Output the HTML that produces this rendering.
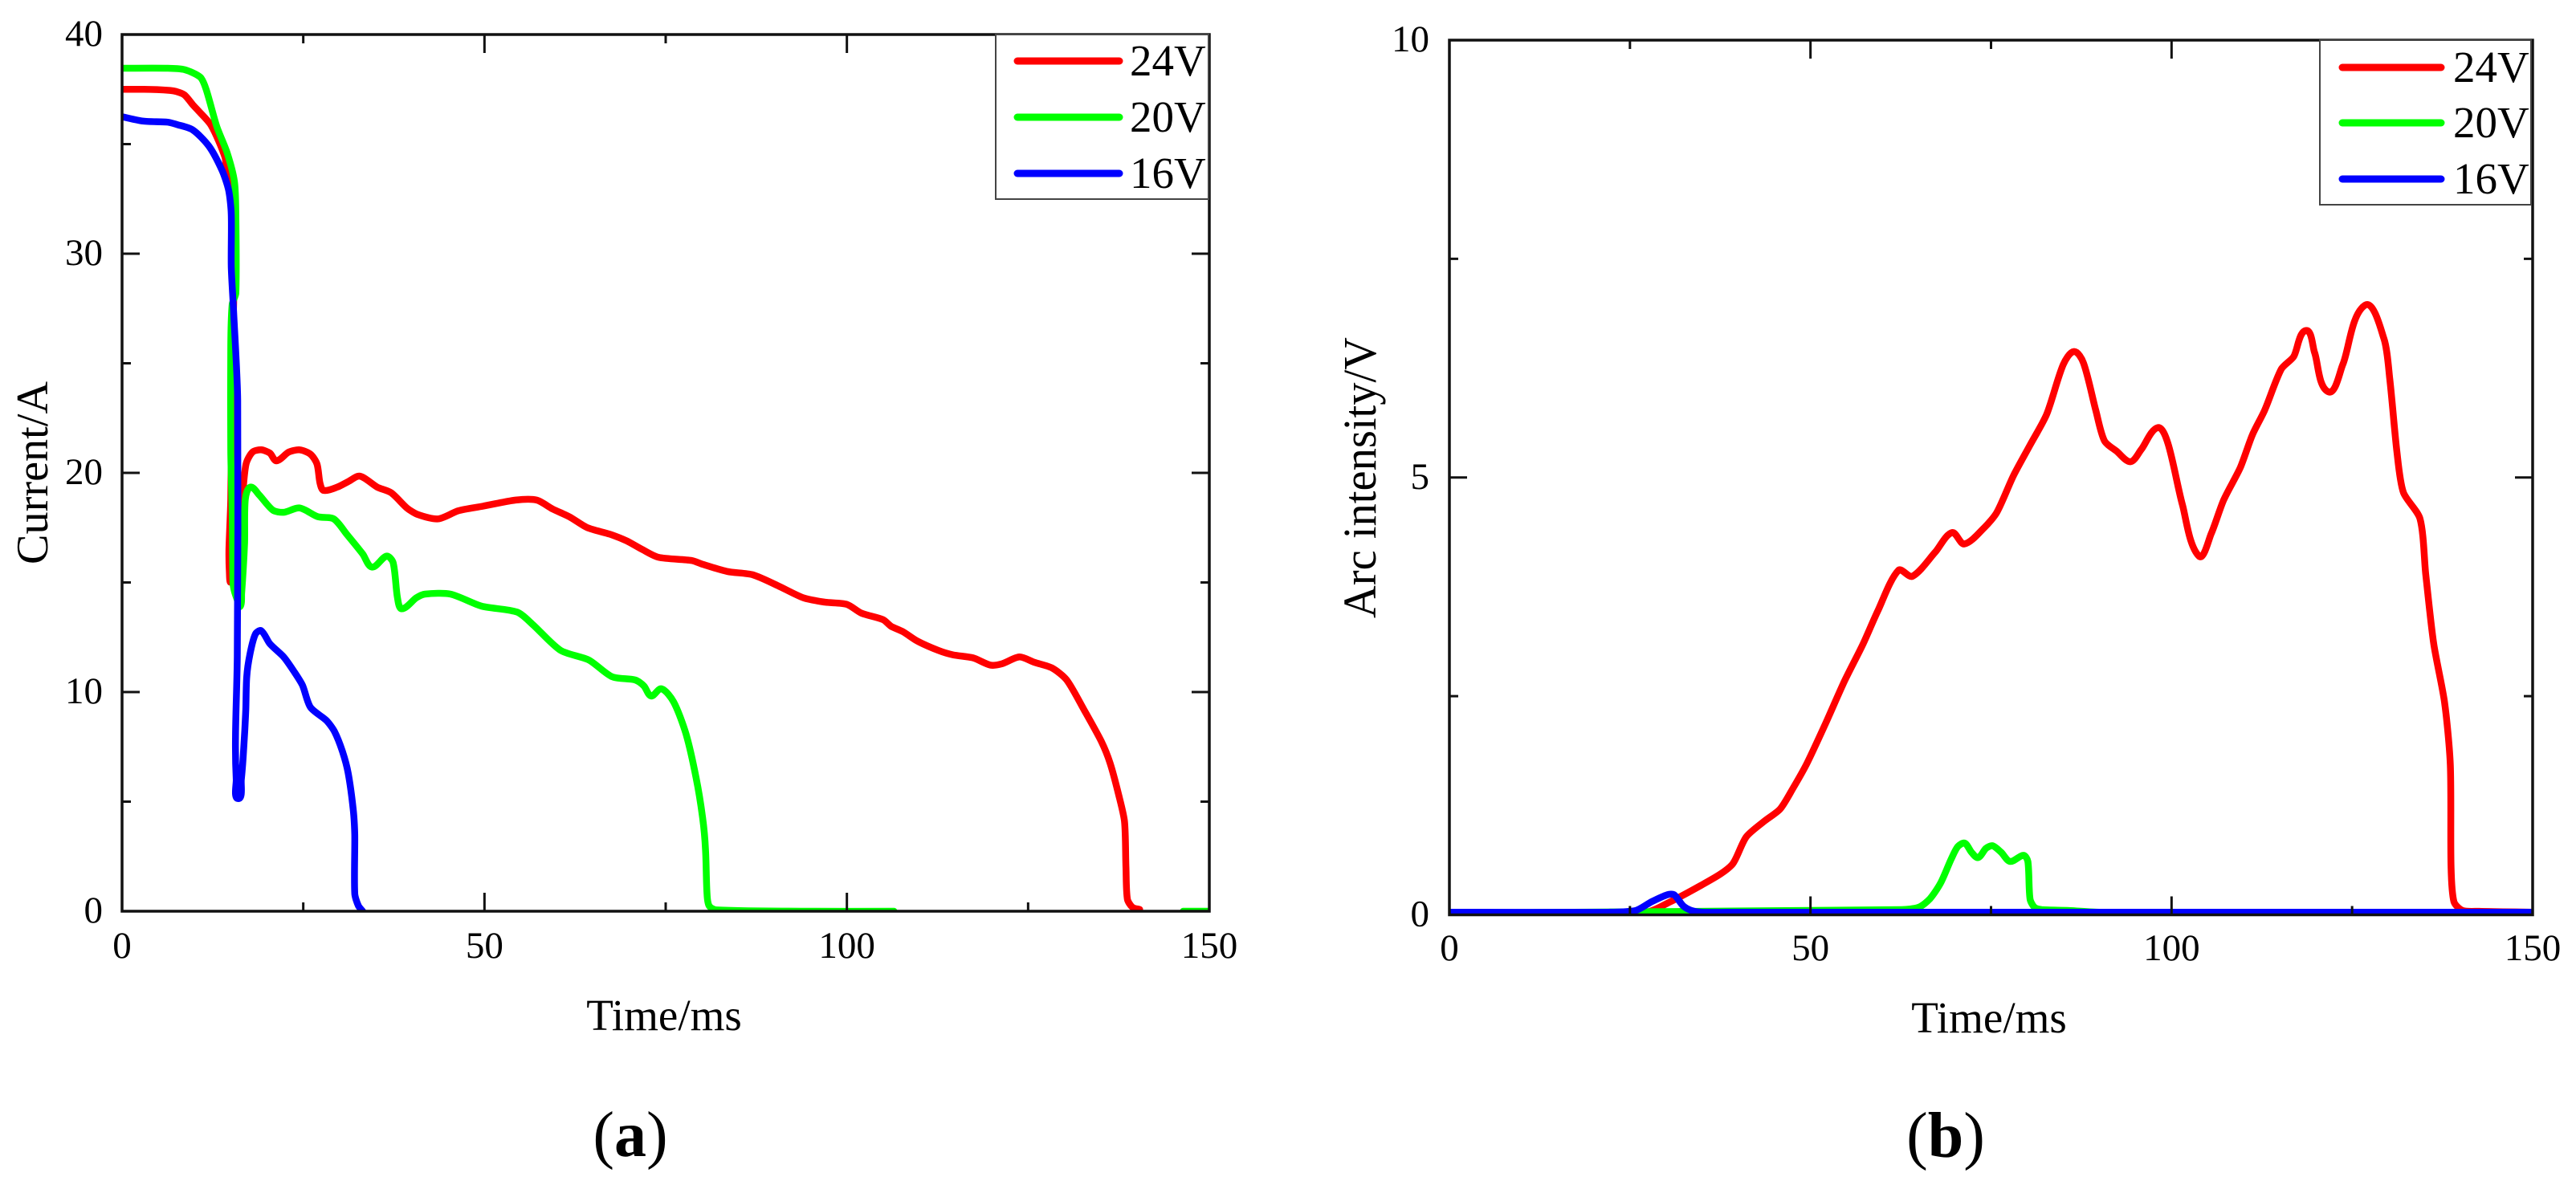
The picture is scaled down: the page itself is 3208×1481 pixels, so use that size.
<!DOCTYPE html>
<html lang="en">
<head>
<meta charset="utf-8">
<title>Current and arc intensity versus time</title>
<style>
html,body{margin:0;padding:0;background:#fff;}
svg{display:block;font-family:"Liberation Serif",serif;}
text{fill:#000;}
</style>
</head>
<body>
<svg id="figure" xmlns="http://www.w3.org/2000/svg" width="3208" height="1481" viewBox="0 0 3208 1481">
  <rect x="0" y="0" width="3208" height="1481" fill="#fff"/>
  <defs>
    <clipPath id="clipA"><rect x="152" y="43" width="1354" height="1092"/></clipPath>
    <clipPath id="clipB"><rect x="1805" y="50" width="1349" height="1089.5"/></clipPath>
  </defs>

  <g id="panelA"></g>
  <g id="panelB"></g>

  <text transform="translate(59,703) rotate(-90)" font-size="56" textLength="228" lengthAdjust="spacingAndGlyphs">Current/A</text>
  <text x="827" y="1283" font-size="55" text-anchor="middle">Time/ms</text>
  <text transform="translate(1713,770) rotate(-90)" font-size="58" textLength="350" lengthAdjust="spacingAndGlyphs">Arc intensity/V</text>
  <text x="2477" y="1286" font-size="55" text-anchor="middle">Time/ms</text>

  <g>
    <rect x="1240" y="43" width="265" height="205" fill="#fff" stroke="#444" stroke-width="2"/>
    <line x1="1267" y1="76" x2="1394" y2="76" stroke="#ff0000" stroke-width="9" stroke-linecap="round"/>
    <text x="1407" y="94" font-size="55">24V</text>
    <line x1="1267" y1="146" x2="1394" y2="146" stroke="#00ff00" stroke-width="9" stroke-linecap="round"/>
    <text x="1407" y="164" font-size="55">20V</text>
    <line x1="1267" y1="216" x2="1394" y2="216" stroke="#0000ff" stroke-width="9" stroke-linecap="round"/>
    <text x="1407" y="234" font-size="55">16V</text>
  </g>

  <g>
    <rect x="2889" y="50" width="263" height="205" fill="#fff" stroke="#444" stroke-width="2"/>
    <line x1="2917" y1="84" x2="3040" y2="84" stroke="#ff0000" stroke-width="9" stroke-linecap="round"/>
    <text x="3055" y="102" font-size="55">24V</text>
    <line x1="2917" y1="153" x2="3040" y2="153" stroke="#00ff00" stroke-width="9" stroke-linecap="round"/>
    <text x="3055" y="171" font-size="55">20V</text>
    <line x1="2917" y1="223" x2="3040" y2="223" stroke="#0000ff" stroke-width="9" stroke-linecap="round"/>
    <text x="3055" y="241" font-size="55">16V</text>
  </g>

  <text x="785" y="1440" font-size="80" text-anchor="middle">(<tspan font-weight="bold">a</tspan>)</text>
  <text x="2423" y="1441" font-size="80" text-anchor="middle">(<tspan font-weight="bold">b</tspan>)</text>
</svg>

<script>
/* ---- Panel (a): current vs time ---- */
var currentXTicks = [0, 50, 100, 150];
var currentXMinor = [25, 75, 125];
var currentYTicks = [0, 10, 20, 30, 40];
var currentYMinor = [5, 15, 25, 35];

var current24Time = [0,3,6.6,7.5,8.6,9.75,10.3,12.3,14.2,14.4,15.1,15.5,15.2,15,14.75,14.8,15,15.6,16.2,16.6,17.1,18,19.2,20.4,21.3,23,24.5,26,26.9,27.3,27.8,29.7,31.2,32.8,35.2,37.1,39.3,40.8,43.6,46.4,49.8,54.3,57.2,59.4,61.7,64.2,67.3,69.6,71.8,74,78.6,80,83.5,87,90.5,94,97,100,102,105,106.1,107.7,109.7,112.6,114.6,117.4,119.8,121.4,123.8,125.9,128.3,130.3,132.7,135.1,136.3,137.5,138.3,138.5,138.7,139.4,140.4];
var current24Value = [37.5,37.5,37.45,37.4,37.25,36.8,36.6,35.85,34.4,33.8,33.4,30,25,18.8,16.5,15.5,15.03,16,18,18.9,20.4,20.95,21.05,20.9,20.55,20.95,21.05,20.85,20.4,19.55,19.2,19.35,19.6,19.85,19.35,19.1,18.4,18.1,17.9,18.27,18.48,18.76,18.76,18.35,18,17.5,17.2,16.9,16.5,16.15,16,15.84,15.5,15.35,14.85,14.3,14.1,14,13.6,13.3,13,12.76,12.33,11.9,11.7,11.56,11.23,11.29,11.6,11.35,11.1,10.56,9.2,7.75,6.77,5.3,4.09,2,0.55,0.18,0.08];

var current20Time = [0,6.3,8.6,10.8,11.6,13.07,14.5,15.5,15.7,15.7,15.2,15,15,15.2,15.3,15.5,15.9,16.3,16.5,16.9,17,17.7,18.9,20.8,22.3,24.5,27,29.2,31,33.2,34.5,36.5,37.4,38,38.6,40.6,41.8,45.3,49.6,54.5,56.6,60.5,64.4,67.6,70.8,72,73,74.4,76.1,77.8,79.2,80.1,80.5,80.7,81,82,94,106.5];
var current20Value = [38.46,38.46,38.4,38.05,37.5,35.8,34.6,33.3,31.8,28.2,27.7,25.8,21,18,15,14.6,14.2,13.9,14.5,16.8,18.8,19.35,19,18.3,18.2,18.4,18,17.9,17.2,16.3,15.7,16.2,15.9,14.3,13.8,14.3,14.47,14.47,13.92,13.65,13.1,11.9,11.46,10.7,10.55,10.28,9.82,10.15,9.55,8.09,6.08,4.26,2.8,0.79,0.24,0.06,0,0];
var current20TailTime = [146.4, 150];
var current20TailValue = [0, 0];

var current16Time = [0,2.9,6.3,7.5,9.75,12,13.8,14.7,15.07,15.07,15.4,15.95,15.9,15.65,15.75,16.03,16.45,16.8,17.07,17.2,17.66,18.4,19.2,20.4,22.3,23.8,24.9,26,28.2,29.3,30.4,31.2,31.9,32.1,32.1,32.6,33.2];
var current16Value = [36.25,36.05,36,35.9,35.65,34.9,33.8,32.9,31.8,29.4,27.3,23.3,11.7,8,6,5.14,6,7.5,9.2,10.7,11.75,12.65,12.8,12.2,11.6,10.9,10.3,9.3,8.7,8.2,7.3,6.3,4.6,3.5,0.8,0.25,0];

/* ---- Panel (b): arc intensity vs time ---- */
var arcXTicks = [0, 50, 100, 150];
var arcXMinor = [25, 75, 125];
var arcYTicks = [0, 5, 10];
var arcYMinor = [2.5, 7.5];

var arc24Time = [0,27.2,30.6,34.7,37.6,39.3,41.1,43.6,45.8,47.6,49.5,52.1,54.7,57.3,59.3,62.2,64.1,67.3,69.6,71.3,74.1,75.8,78.1,80.4,82.7,85,86.5,87.8,89.5,90.7,92.4,94.3,95.8,98.1,99.5,101.5,103.8,105.5,107.2,109.5,111.2,112.9,115.2,116.9,118.6,119.8,121.7,123.7,126.8,129.4,130.2,131.2,132.1,134.4,135.2,136.3,137.8,138.6,138.7,139.1,140.3,142.6,150];
var arc24Value = [0.03,0.03,0.15,0.33,0.47,0.59,0.89,1.07,1.21,1.45,1.73,2.19,2.67,3.1,3.47,3.94,3.87,4.15,4.37,4.24,4.43,4.6,5.02,5.37,5.72,6.29,6.44,6.31,5.77,5.42,5.3,5.18,5.32,5.57,5.39,4.69,4.1,4.36,4.74,5.11,5.49,5.77,6.24,6.38,6.68,6.43,5.98,6.29,6.97,6.59,6.14,5.3,4.83,4.53,3.89,3.1,2.43,1.71,0.55,0.15,0.05,0.04,0.03];

var arc20Time = [0,62.6,65,66.5,68,69.5,70.4,71.35,72.3,73.2,74.3,75.2,76.4,77.65,79.5,80.1,80.4,81,82,85.8,90,150];
var arc20Value = [0.02,0.06,0.087,0.18,0.36,0.64,0.78,0.82,0.715,0.654,0.76,0.79,0.715,0.61,0.68,0.61,0.18,0.087,0.06,0.05,0.03,0.03];

var arc16Time = [0,22,25.8,28,30.2,31.1,32.4,33.5,35,40.2,45,150];
var arc16Value = [0.03,0.03,0.05,0.15,0.23,0.23,0.1,0.05,0.03,0.03,0.03,0.03];

var SVGNS = 'http://www.w3.org/2000/svg';

function svgEl(tag, parent) {
  var el = document.createElementNS(SVGNS, tag);
  parent.appendChild(el);
  return el;
}

function makeScale(d0, d1, r0, r1) {
  return function (v) { return r0 + (v - d0) / (d1 - d0) * (r1 - r0); };
}

/* Smooth path through screen points: tangent follows prev->next, handle length
   scales with the local segment so steep sections do not overshoot. */
function smoothPath(pts) {
  function tangent(i) {
    var a = pts[Math.max(i - 1, 0)], b = pts[Math.min(i + 1, pts.length - 1)];
    var dx = b[0] - a[0], dy = b[1] - a[1], len = Math.hypot(dx, dy) || 1;
    return [dx / len, dy / len];
  }
  var d = 'M' + pts[0][0].toFixed(1) + ' ' + pts[0][1].toFixed(1);
  for (var i = 0; i < pts.length - 1; i++) {
    var p = pts[i], q = pts[i + 1];
    var seg = Math.hypot(q[0] - p[0], q[1] - p[1]) * 0.26;
    var t0 = tangent(i), t1 = tangent(i + 1);
    d += 'C' + (p[0] + t0[0] * seg).toFixed(1) + ' ' + (p[1] + t0[1] * seg).toFixed(1) + ' ' +
         (q[0] - t1[0] * seg).toFixed(1) + ' ' + (q[1] - t1[1] * seg).toFixed(1) + ' ' +
         q[0].toFixed(1) + ' ' + q[1].toFixed(1);
  }
  return d;
}

function drawSeries(group, sx, sy, times, values, color, clipId, name) {
  var pts = times.map(function (t, i) { return [sx(t), sy(values[i])]; });
  var line = svgEl('path', group);
  
  
  line.setAttribute('d', smoothPath(pts));
  line.setAttribute('fill', 'none');
  line.setAttribute('stroke', color);
  line.setAttribute('stroke-width', '8.5');
  line.setAttribute('stroke-linejoin', 'round');
  line.setAttribute('stroke-linecap', 'round');
  line.setAttribute('clip-path', 'url(#' + clipId + ')');
}

function tickLine(group, x1, y1, x2, y2, width) {
  var t = svgEl('line', group);
  
  
  t.setAttribute('x1', x1);
  t.setAttribute('y1', y1);
  t.setAttribute('x2', x2);
  t.setAttribute('y2', y2);
  t.setAttribute('stroke', '#111');
  t.setAttribute('stroke-width', width);
}

function tickLabel(group, x, y, str, anchor, name) {
  var t = svgEl('text', group);
  
  
  t.setAttribute('x', x);
  t.setAttribute('y', y);
  t.setAttribute('font-size', '47');
  t.setAttribute('text-anchor', anchor);
  t.textContent = str;
}

function drawAxes(group, sx, sy, box, xMajor, xMinor, yMajor, yMinor, opts) {
  xMajor.forEach(function (v) {
    var x = sx(v);
    tickLine(group, x, box.bottom, x, box.bottom - 23, 3);
    tickLine(group, x, box.top, x, box.top + 23, 3);
    tickLabel(group, x, opts.xLabelY, String(v), 'middle', 'x-tick-label');
  });
  xMinor.forEach(function (v) {
    var x = sx(v);
    tickLine(group, x, box.bottom, x, box.bottom - 11, 3);
    tickLine(group, x, box.top, x, box.top + 11, 3);
  });
  yMajor.forEach(function (v) {
    var y = sy(v);
    tickLine(group, box.left, y, box.left + 22, y, 3);
    tickLine(group, box.right, y, box.right - 22, y, 3);
    tickLabel(group, opts.yLabelX, y + 14, String(v), 'end', 'y-tick-label');
  });
  yMinor.forEach(function (v) {
    var y = sy(v);
    tickLine(group, box.left, y, box.left + 11, y, 3);
    tickLine(group, box.right, y, box.right - 11, y, 3);
  });
  var frame = svgEl('rect', group);
  
  
  frame.setAttribute('x', box.left);
  frame.setAttribute('y', box.top);
  frame.setAttribute('width', box.right - box.left);
  frame.setAttribute('height', box.bottom - box.top);
  frame.setAttribute('fill', 'none');
  frame.setAttribute('stroke', '#111');
  frame.setAttribute('stroke-width', '3.5');
}

/* panel a */
var boxA = { left: 152, right: 1506, top: 43, bottom: 1135 };
var xA = makeScale(0, 150, boxA.left, boxA.right);
var yA = makeScale(0, 40, boxA.bottom, boxA.top);
var gA = document.getElementById('panelA');
drawSeries(gA, xA, yA, current24Time, current24Value, '#ff0000', 'clipA', 'series-24v');
drawSeries(gA, xA, yA, current20Time, current20Value, '#00ff00', 'clipA', 'series-20v');
drawSeries(gA, xA, yA, current20TailTime, current20TailValue, '#00ff00', 'clipA', 'series-20v-tail');
drawSeries(gA, xA, yA, current16Time, current16Value, '#0000ff', 'clipA', 'series-16v');
drawAxes(gA, xA, yA, boxA, currentXTicks, currentXMinor, currentYTicks, currentYMinor, { xLabelY: 1193, yLabelX: 128 });

/* panel b */
var boxB = { left: 1805, right: 3154, top: 50, bottom: 1139.5 };
var xB = makeScale(0, 150, boxB.left, boxB.right);
var yB = makeScale(0, 10, boxB.bottom, boxB.top);
var gB = document.getElementById('panelB');
drawSeries(gB, xB, yB, arc24Time, arc24Value, '#ff0000', 'clipB', 'series-24v');
drawSeries(gB, xB, yB, arc20Time, arc20Value, '#00ff00', 'clipB', 'series-20v');
drawSeries(gB, xB, yB, arc16Time, arc16Value, '#0000ff', 'clipB', 'series-16v');
drawAxes(gB, xB, yB, boxB, arcXTicks, arcXMinor, arcYTicks, arcYMinor, { xLabelY: 1196, yLabelX: 1780 });
</script>
</body>
</html>
